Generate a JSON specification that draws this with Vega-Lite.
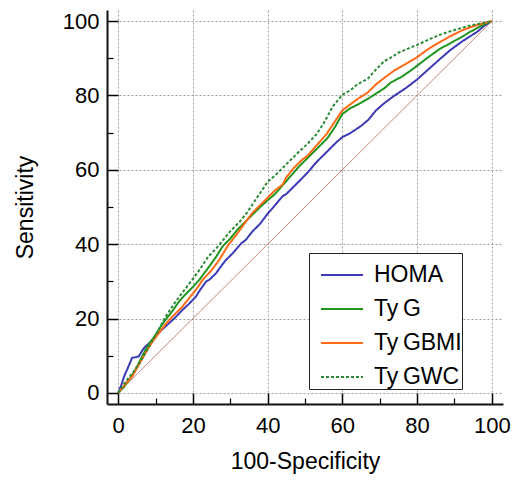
{
  "$schema": "https://vega.github.io/schema/vega-lite/v6.json",
  "width": 396,
  "height": 394,
  "autosize": {"type": "none"},
  "padding": {"left": 107, "top": 10, "right": 13, "bottom": 80},
  "background": "white",
  "config": {
    "view": {"stroke": null},
    "font": "Liberation Sans",
    "axis": {
      "labelFont": "Liberation Sans",
      "titleFont": "Liberation Sans",
      "labelColor": "black",
      "titleColor": "black",
      "tickColor": "black",
      "domainColor": "#111",
      "labelFontSize": 22,
      "titleFontSize": 23,
      "titleFontWeight": "normal",
      "domainWidth": 2,
      "values": [0, 5, 10, 15, 20, 25, 30, 35, 40, 45, 50, 55, 60, 65, 70, 75, 80, 85, 90, 95, 100],
      "labelExpr": "datum.value % 20 === 0 ? datum.label : ''",
      "tickSize": {"condition": {"test": "datum.value % 20 === 0", "value": -11}, "value": -6},
      "tickWidth": {"condition": {"test": "datum.value % 20 === 0", "value": 1.5}, "value": 1.2},
      "grid": true,
      "gridDash": [2, 2],
      "gridColor": "#9e9e9e",
      "gridWidth": 1,
      "gridOpacity": {"condition": {"test": "datum.value % 20 === 0", "value": 1}, "value": 0}
    },
    "legend": {"labelFont": "Liberation Sans"}
  },
  "datasets": {
    "diag": [{"x": 0, "y": 0}, {"x": 100, "y": 100}],
    "roc": [
      {"s": "HOMA", "x": 0, "y": 0}, {"s": "HOMA", "x": 0.8, "y": 2}, {"s": "HOMA", "x": 1.6, "y": 4.5}, {"s": "HOMA", "x": 2.5, "y": 6.5}, {"s": "HOMA", "x": 3.7, "y": 9.4}, {"s": "HOMA", "x": 5.5, "y": 9.8}, {"s": "HOMA", "x": 6.5, "y": 11.5}, {"s": "HOMA", "x": 7.3, "y": 12.5}, {"s": "HOMA", "x": 8.5, "y": 13.5}, {"s": "HOMA", "x": 10, "y": 15.2}, {"s": "HOMA", "x": 11.5, "y": 16.8}, {"s": "HOMA", "x": 12.7, "y": 17.9}, {"s": "HOMA", "x": 15, "y": 20}, {"s": "HOMA", "x": 17.2, "y": 22.3}, {"s": "HOMA", "x": 19, "y": 24}, {"s": "HOMA", "x": 20.8, "y": 25.9}, {"s": "HOMA", "x": 22, "y": 27.8}, {"s": "HOMA", "x": 23.5, "y": 29.9}, {"s": "HOMA", "x": 24.5, "y": 30.5}, {"s": "HOMA", "x": 26.2, "y": 32.2}, {"s": "HOMA", "x": 28.6, "y": 35.5}, {"s": "HOMA", "x": 30.7, "y": 37.6}, {"s": "HOMA", "x": 32.9, "y": 40.2}, {"s": "HOMA", "x": 34.1, "y": 41.1}, {"s": "HOMA", "x": 36, "y": 43.5}, {"s": "HOMA", "x": 38, "y": 45.5}, {"s": "HOMA", "x": 40, "y": 48.2}, {"s": "HOMA", "x": 42, "y": 50.5}, {"s": "HOMA", "x": 44, "y": 52.9}, {"s": "HOMA", "x": 45, "y": 53.5}, {"s": "HOMA", "x": 47, "y": 55.5}, {"s": "HOMA", "x": 49, "y": 57.5}, {"s": "HOMA", "x": 50.9, "y": 59.5}, {"s": "HOMA", "x": 53, "y": 62}, {"s": "HOMA", "x": 55, "y": 64}, {"s": "HOMA", "x": 57, "y": 66}, {"s": "HOMA", "x": 58.5, "y": 67.5}, {"s": "HOMA", "x": 60, "y": 68.8}, {"s": "HOMA", "x": 62, "y": 69.8}, {"s": "HOMA", "x": 65, "y": 71.8}, {"s": "HOMA", "x": 67, "y": 73.5}, {"s": "HOMA", "x": 69, "y": 76}, {"s": "HOMA", "x": 71.3, "y": 78}, {"s": "HOMA", "x": 74, "y": 80}, {"s": "HOMA", "x": 77, "y": 82}, {"s": "HOMA", "x": 80, "y": 84.3}, {"s": "HOMA", "x": 83, "y": 87}, {"s": "HOMA", "x": 86, "y": 89.7}, {"s": "HOMA", "x": 89, "y": 92.3}, {"s": "HOMA", "x": 92, "y": 94.5}, {"s": "HOMA", "x": 94, "y": 95.8}, {"s": "HOMA", "x": 96.2, "y": 97.2}, {"s": "HOMA", "x": 98, "y": 98.8}, {"s": "HOMA", "x": 100, "y": 100},
      {"s": "TyG", "x": 0, "y": 0}, {"s": "TyG", "x": 1.5, "y": 1.5}, {"s": "TyG", "x": 3, "y": 3.6}, {"s": "TyG", "x": 4.5, "y": 6}, {"s": "TyG", "x": 5.5, "y": 8}, {"s": "TyG", "x": 7.3, "y": 11.6}, {"s": "TyG", "x": 8.5, "y": 13.5}, {"s": "TyG", "x": 10, "y": 15.6}, {"s": "TyG", "x": 11.5, "y": 18}, {"s": "TyG", "x": 12.7, "y": 19.7}, {"s": "TyG", "x": 14.5, "y": 22}, {"s": "TyG", "x": 16.3, "y": 24.6}, {"s": "TyG", "x": 18, "y": 26.5}, {"s": "TyG", "x": 20, "y": 28.5}, {"s": "TyG", "x": 21.7, "y": 30.4}, {"s": "TyG", "x": 24, "y": 33.5}, {"s": "TyG", "x": 26.2, "y": 36.6}, {"s": "TyG", "x": 28, "y": 39.5}, {"s": "TyG", "x": 30, "y": 41.5}, {"s": "TyG", "x": 32, "y": 44}, {"s": "TyG", "x": 34, "y": 46}, {"s": "TyG", "x": 36, "y": 48}, {"s": "TyG", "x": 38, "y": 50}, {"s": "TyG", "x": 40, "y": 51.8}, {"s": "TyG", "x": 42, "y": 53.5}, {"s": "TyG", "x": 45, "y": 57}, {"s": "TyG", "x": 48.5, "y": 61}, {"s": "TyG", "x": 50.9, "y": 63.4}, {"s": "TyG", "x": 53, "y": 65.5}, {"s": "TyG", "x": 56, "y": 68.5}, {"s": "TyG", "x": 58, "y": 71.5}, {"s": "TyG", "x": 60, "y": 75}, {"s": "TyG", "x": 62, "y": 76.5}, {"s": "TyG", "x": 64, "y": 77.5}, {"s": "TyG", "x": 66.8, "y": 79.1}, {"s": "TyG", "x": 69, "y": 80.5}, {"s": "TyG", "x": 71.3, "y": 82}, {"s": "TyG", "x": 73, "y": 83.5}, {"s": "TyG", "x": 75.8, "y": 85}, {"s": "TyG", "x": 78, "y": 86.5}, {"s": "TyG", "x": 80, "y": 88}, {"s": "TyG", "x": 83, "y": 90.3}, {"s": "TyG", "x": 86, "y": 92.5}, {"s": "TyG", "x": 89, "y": 94.1}, {"s": "TyG", "x": 92, "y": 95.8}, {"s": "TyG", "x": 94, "y": 97}, {"s": "TyG", "x": 96.2, "y": 98.2}, {"s": "TyG", "x": 98, "y": 99.2}, {"s": "TyG", "x": 100, "y": 100},
      {"s": "TyGBMI", "x": 0, "y": 0}, {"s": "TyGBMI", "x": 2, "y": 2.5}, {"s": "TyGBMI", "x": 3.8, "y": 4.5}, {"s": "TyGBMI", "x": 5.5, "y": 7.5}, {"s": "TyGBMI", "x": 7.3, "y": 10.7}, {"s": "TyGBMI", "x": 9, "y": 13.5}, {"s": "TyGBMI", "x": 10.9, "y": 16.1}, {"s": "TyGBMI", "x": 12.7, "y": 18.5}, {"s": "TyGBMI", "x": 14.5, "y": 20.5}, {"s": "TyGBMI", "x": 17, "y": 23}, {"s": "TyGBMI", "x": 19, "y": 25.5}, {"s": "TyGBMI", "x": 21, "y": 28}, {"s": "TyGBMI", "x": 22.6, "y": 30.4}, {"s": "TyGBMI", "x": 25, "y": 33}, {"s": "TyGBMI", "x": 27, "y": 35.7}, {"s": "TyGBMI", "x": 29.5, "y": 39.8}, {"s": "TyGBMI", "x": 32, "y": 43}, {"s": "TyGBMI", "x": 34.1, "y": 46}, {"s": "TyGBMI", "x": 36, "y": 48.5}, {"s": "TyGBMI", "x": 38, "y": 50.5}, {"s": "TyGBMI", "x": 40, "y": 52.5}, {"s": "TyGBMI", "x": 42, "y": 54.5}, {"s": "TyGBMI", "x": 44, "y": 56}, {"s": "TyGBMI", "x": 45, "y": 58}, {"s": "TyGBMI", "x": 47, "y": 60.5}, {"s": "TyGBMI", "x": 49, "y": 62.5}, {"s": "TyGBMI", "x": 50.9, "y": 64}, {"s": "TyGBMI", "x": 53, "y": 66.5}, {"s": "TyGBMI", "x": 55.7, "y": 69.5}, {"s": "TyGBMI", "x": 58, "y": 73}, {"s": "TyGBMI", "x": 60, "y": 76}, {"s": "TyGBMI", "x": 62, "y": 77.5}, {"s": "TyGBMI", "x": 64, "y": 79}, {"s": "TyGBMI", "x": 66.8, "y": 80.8}, {"s": "TyGBMI", "x": 69, "y": 83}, {"s": "TyGBMI", "x": 71.3, "y": 84.8}, {"s": "TyGBMI", "x": 74, "y": 86.8}, {"s": "TyGBMI", "x": 77, "y": 88.5}, {"s": "TyGBMI", "x": 80, "y": 90.3}, {"s": "TyGBMI", "x": 83, "y": 92.5}, {"s": "TyGBMI", "x": 86, "y": 94.3}, {"s": "TyGBMI", "x": 89, "y": 96}, {"s": "TyGBMI", "x": 92, "y": 97.5}, {"s": "TyGBMI", "x": 95, "y": 98.6}, {"s": "TyGBMI", "x": 98, "y": 99.5}, {"s": "TyGBMI", "x": 100, "y": 100},
      {"s": "TyGWC", "x": 0, "y": 0}, {"s": "TyGWC", "x": 2, "y": 3}, {"s": "TyGWC", "x": 4, "y": 5.5}, {"s": "TyGWC", "x": 6, "y": 8.5}, {"s": "TyGWC", "x": 8, "y": 12}, {"s": "TyGWC", "x": 10, "y": 15.5}, {"s": "TyGWC", "x": 12.7, "y": 20.5}, {"s": "TyGWC", "x": 15, "y": 24}, {"s": "TyGWC", "x": 17.2, "y": 27}, {"s": "TyGWC", "x": 19.5, "y": 30}, {"s": "TyGWC", "x": 21.7, "y": 33}, {"s": "TyGWC", "x": 24, "y": 36.5}, {"s": "TyGWC", "x": 26.2, "y": 38.8}, {"s": "TyGWC", "x": 28, "y": 41}, {"s": "TyGWC", "x": 30, "y": 43.5}, {"s": "TyGWC", "x": 32.3, "y": 45.8}, {"s": "TyGWC", "x": 34.5, "y": 48.5}, {"s": "TyGWC", "x": 36.8, "y": 52}, {"s": "TyGWC", "x": 38.5, "y": 54.5}, {"s": "TyGWC", "x": 40, "y": 56.8}, {"s": "TyGWC", "x": 42, "y": 58.5}, {"s": "TyGWC", "x": 44, "y": 60.5}, {"s": "TyGWC", "x": 46, "y": 62.5}, {"s": "TyGWC", "x": 48.5, "y": 65}, {"s": "TyGWC", "x": 50.5, "y": 66.8}, {"s": "TyGWC", "x": 53, "y": 69.5}, {"s": "TyGWC", "x": 55, "y": 72.5}, {"s": "TyGWC", "x": 57.4, "y": 77}, {"s": "TyGWC", "x": 60, "y": 80.2}, {"s": "TyGWC", "x": 62.3, "y": 81.5}, {"s": "TyGWC", "x": 64, "y": 83}, {"s": "TyGWC", "x": 66.8, "y": 84.5}, {"s": "TyGWC", "x": 69, "y": 87}, {"s": "TyGWC", "x": 71.3, "y": 89.3}, {"s": "TyGWC", "x": 73, "y": 90.2}, {"s": "TyGWC", "x": 75, "y": 91.5}, {"s": "TyGWC", "x": 78, "y": 92.8}, {"s": "TyGWC", "x": 80, "y": 93.6}, {"s": "TyGWC", "x": 83, "y": 95}, {"s": "TyGWC", "x": 86, "y": 96.3}, {"s": "TyGWC", "x": 89, "y": 97.3}, {"s": "TyGWC", "x": 92, "y": 98.2}, {"s": "TyGWC", "x": 95, "y": 99}, {"s": "TyGWC", "x": 98, "y": 99.6}, {"s": "TyGWC", "x": 100, "y": 100}
    ]
  },
  "layer": [
    {
      "data": {"name": "diag"},
      "mark": {"type": "line", "color": "#c98480", "strokeWidth": 1},
      "encoding": {
        "x": {
          "field": "x", "type": "quantitative",
          "scale": {"domain": [-3, 103], "nice": false, "zero": false},
          "axis": {"orient": "bottom", "title": "100-Specificity", "labelPadding": 22, "titlePadding": 14}
        },
        "y": {
          "field": "y", "type": "quantitative",
          "scale": {"domain": [-3, 103], "nice": false, "zero": false},
          "axis": {"orient": "left", "title": "Sensitivity", "labelPadding": 19, "titlePadding": 25}
        }
      }
    },
    {
      "data": {"name": "roc"},
      "mark": {"type": "line"},
      "encoding": {
        "x": {"field": "x", "type": "quantitative"},
        "y": {"field": "y", "type": "quantitative"},
        "color": {
          "field": "s", "type": "nominal",
          "scale": {"domain": ["HOMA", "TyG", "TyGBMI", "TyGWC"], "range": ["#3b3bb5", "#1f951f", "#ff6a14", "#2e8a38"]},
          "legend": {
            "orient": "none", "legendX": 202, "legendY": 243, "title": null,
            "strokeColor": "#222", "fillColor": "white", "padding": 0,
            "symbolType": "stroke", "symbolSize": 1764, "symbolStrokeWidth": 2, "symbolOffset": 11,
            "labelOffset": 10, "labelFontSize": 23, "labelColor": "black", "rowPadding": -14.5,
            "labelExpr": "replace(datum.label, 'Ty', 'Ty\u2009')"
          }
        },
        "strokeDash": {
          "field": "s", "type": "nominal",
          "scale": {"domain": ["HOMA", "TyG", "TyGBMI", "TyGWC"], "range": [[1, 0], [1, 0], [1, 0], [3, 2]]},
          "legend": {
            "orient": "none", "legendX": 202, "legendY": 243, "title": null,
            "strokeColor": "#222", "fillColor": "white", "padding": 0,
            "symbolType": "stroke", "symbolSize": 1764, "symbolStrokeWidth": 2, "symbolOffset": 11,
            "labelOffset": 10, "labelFontSize": 23, "labelColor": "black", "rowPadding": -14.5,
            "labelExpr": "replace(datum.label, 'Ty', 'Ty\u2009')"
          }
        },
        "strokeWidth": {
          "field": "s", "type": "nominal",
          "scale": {"domain": ["HOMA", "TyG", "TyGBMI", "TyGWC"], "range": [2, 2, 2.2, 1.5]},
          "legend": null
        }
      }
    }
  ]
}
